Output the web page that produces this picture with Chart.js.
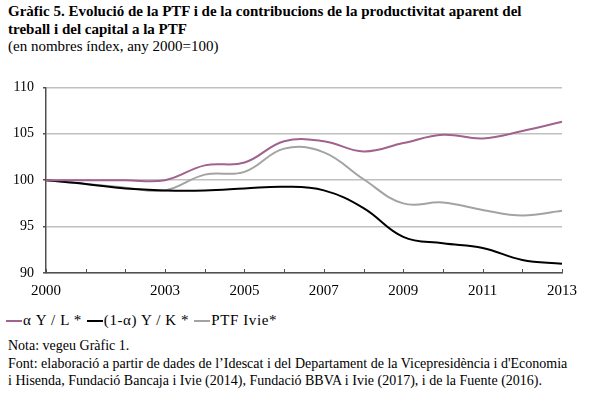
<!DOCTYPE html>
<html lang="ca">
<head>
<meta charset="UTF-8">
<title>Gràfic 5</title>
<style>
  body { margin: 0; width: 596px; height: 397px; background: #fff; font-family: "Liberation Serif", serif; color: #000; overflow: hidden; position: relative; }
  .titol { position: absolute; left: 8px; top: 3px; font-size: 15px; line-height: 17.5px; }
  .grafic { position: absolute; left: 0; top: 70px; width: 596px; height: 230px; }
  .llegenda { position: absolute; left: 6px; top: 311px; font-size: 15px; line-height: 18px; white-space: nowrap; letter-spacing: 0.6px; }
  .llegenda span.item { margin-right: 5px; }
  .llegenda span.linia { display: inline-block; width: 16px; height: 2px; vertical-align: middle; margin-right: 1px; position: relative; top: -1px; }
  .notes { position: absolute; left: 8px; top: 337px; font-size: 14px; line-height: 17.5px; }
</style>
</head>
<body>
<div class="titol">
  <b>Gràfic 5. Evolució de la PTF i de la contribucions de la productivitat aparent del<br>treball i del capital a la PTF</b><br>
  (en nombres índex, any 2000=100)
</div>
<div class="grafic"><canvas id="grafic"></canvas></div>
<div class="llegenda" id="llegenda"></div>
<div class="notes">
  Nota: vegeu Gràfic 1.<br>
  Font: elaboració a partir de dades de l’Idescat i del Departament de la Vicepresidència i d'Economia<br>
  i Hisenda, Fundació Bancaja i Ivie (2014), Fundació BBVA i Ivie (2017), i de la Fuente (2016).
</div>

<script src="https://cdn.jsdelivr.net/npm/chart.js"></script>
<script>
// anys i etiquetes de l'eix X
const anys = ['2000', '2001', '2002', '2003', '2004', '2005', '2006', '2007', '2008', '2009', '2010', '2011', '2012', '2013'];
const anysAmbEtiqueta = ['2000', '2003', '2005', '2007', '2009', '2011', '2013'];
const ticksY = [90, 95, 100, 105, 110];

// sèries (índex 2000=100)
const treball = [100, 100, 100, 100, 101.6, 101.9, 104.2, 104.2, 103.1, 104.0, 104.9, 104.5, 105.3, 106.3];
const capital = [100, 99.6, 99.1, 98.9, 98.9, 99.1, 99.3, 98.9, 97.0, 93.9, 93.2, 92.7, 91.4, 91.0];
const ptfIvie = [100, 99.6, 99.2, 98.9, 100.6, 100.9, 103.4, 103.0, 100.1, 97.5, 97.6, 96.8, 96.2, 96.7];

// marques de l'eix X cap a dins, com a l'original
const marquesX = {
  id: 'marquesX',
  afterDraw(chart) {
    const ctx = chart.ctx;
    const x = chart.scales.x;
    const base = chart.chartArea.bottom;
    ctx.save();
    ctx.strokeStyle = '#505050';
    ctx.lineWidth = 1;
    x.ticks.forEach((t, i) => {
      const px = Math.round(x.getPixelForTick(i)) + 0.5;
      ctx.beginPath();
      ctx.moveTo(px, base);
      ctx.lineTo(px, base - 4);
      ctx.stroke();
    });
    ctx.restore();
  }
};

const grafic = new Chart(document.getElementById('grafic'), {
  type: 'line',
  data: {
    labels: anys,
    datasets: [
      { label: 'α Y / L *', data: treball, borderColor: '#a0628e', backgroundColor: '#a0628e', borderWidth: 2 },
      { label: '(1-α) Y / K *', data: capital, borderColor: '#000000', backgroundColor: '#000000', borderWidth: 2 },
      { label: 'PTF Ivie*', data: ptfIvie, borderColor: '#a3a3a3', backgroundColor: '#a3a3a3', borderWidth: 2 }
    ]
  },
  options: {
    responsive: true,
    maintainAspectRatio: false,
    animation: false,
    elements: { point: { radius: 0 }, line: { tension: 0.4 } },
    layout: { padding: { left: 0, right: 34, top: 17, bottom: 0 } },
    scales: {
      x: {
        offset: false,
        afterFit: function(scale) { scale.height = 27; },
        grid: { drawOnChartArea: false, drawTicks: false },
        border: { color: '#505050', width: 1.5 },
        ticks: {
          autoSkip: false, maxRotation: 0, padding: 9, color: '#000',
          font: { family: 'Liberation Serif', size: 15 },
          callback: function(v, i) { return anysAmbEtiqueta.includes(anys[i]) ? anys[i] : ''; }
        }
      },
      y: {
        min: 90, max: 110,
        afterBuildTicks: function(scale) { scale.ticks = ticksY.map(v => ({ value: v })); },
        afterFit: function(scale) { scale.width = 46; },
        grid: { color: '#c0c0c0', lineWidth: 1.5, tickLength: 3, tickColor: '#505050' },
        border: { color: '#505050', width: 1.5 },
        ticks: { padding: 9, color: '#000', font: { family: 'Liberation Serif', size: 14 } }
      }
    },
    plugins: {
      legend: { display: false },
      tooltip: { enabled: false }
    }
  },
  plugins: [marquesX]
});

// llegenda a partir dels conjunts de dades del gràfic
const llegenda = document.getElementById('llegenda');
grafic.data.datasets.forEach(ds => {
  const item = document.createElement('span');
  item.className = 'item';
  const linia = document.createElement('span');
  linia.className = 'linia';
  linia.style.background = ds.borderColor;
  item.appendChild(linia);
  item.appendChild(document.createTextNode(ds.label));
  llegenda.appendChild(item);
});
</script>
</body>
</html>
